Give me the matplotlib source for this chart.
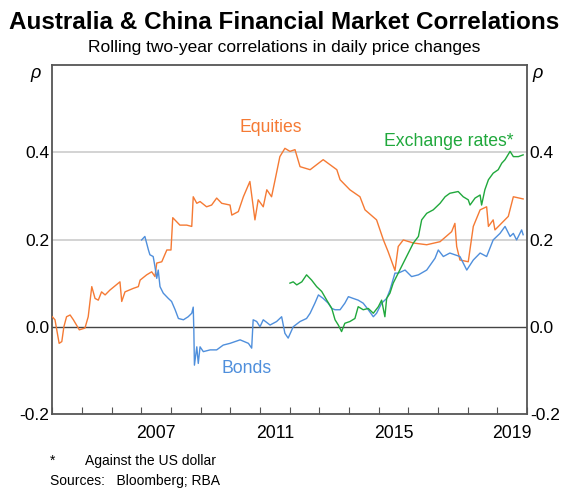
import matplotlib
matplotlib.use("Agg")
import matplotlib.pyplot as plt

plt.rcParams['font.family'] = ['Liberation Sans', 'DejaVu Sans']

# equities: (year, correlation)
eq_year = [2004.0, 2004.09, 2004.23, 2004.32, 2004.39, 2004.48, 2004.6, 2004.71, 2004.91, 2005.1,
           2005.21, 2005.33, 2005.44, 2005.55, 2005.66, 2005.78, 2005.94, 2006.28, 2006.34, 2006.45,
           2006.73, 2006.9, 2006.96, 2007.18, 2007.35, 2007.46, 2007.52, 2007.69, 2007.86, 2008.0,
           2008.06, 2008.3, 2008.53, 2008.7, 2008.75, 2008.87, 2008.98, 2009.2, 2009.37, 2009.54,
           2009.71, 2009.99, 2010.05, 2010.27, 2010.44, 2010.66, 2010.83, 2010.94, 2011.11, 2011.23,
           2011.39, 2011.51, 2011.67, 2011.84, 2012.01, 2012.18, 2012.35, 2012.69, 2013.13, 2013.59,
           2013.7, 2014.03, 2014.37, 2014.54, 2014.93, 2015.16, 2015.32, 2015.55, 2015.66, 2015.83,
           2016.17, 2016.62, 2017.07, 2017.46, 2017.57, 2017.63, 2017.74, 2018.02, 2018.19, 2018.42,
           2018.64, 2018.7, 2018.86, 2018.92, 2019.37, 2019.54, 2019.87]
eq_val = [0.023, 0.016, -0.038, -0.034, 0.0, 0.023, 0.027, 0.016, -0.007, -0.003,
          0.023, 0.092, 0.065, 0.061, 0.08, 0.073, 0.084, 0.103, 0.058, 0.08,
          0.088, 0.092, 0.107, 0.119, 0.126, 0.115, 0.146, 0.149, 0.176, 0.176,
          0.250, 0.233, 0.233, 0.23, 0.298, 0.283, 0.287, 0.275, 0.279, 0.295,
          0.283, 0.279, 0.256, 0.264, 0.298, 0.333, 0.245, 0.291, 0.275, 0.314,
          0.298, 0.337, 0.39, 0.409, 0.402, 0.406, 0.367, 0.36, 0.383, 0.36,
          0.337, 0.314, 0.298, 0.268, 0.245, 0.199, 0.172, 0.129, 0.184, 0.199,
          0.192, 0.188, 0.195, 0.218, 0.237, 0.184, 0.153, 0.149, 0.23, 0.268,
          0.275, 0.23, 0.245, 0.222, 0.253, 0.298, 0.293]

# bonds
bd_year = [2007.01, 2007.12, 2007.24, 2007.29, 2007.4, 2007.46, 2007.52, 2007.57, 2007.63, 2007.74,
           2007.91, 2008.02, 2008.14, 2008.25, 2008.42, 2008.58, 2008.7, 2008.75, 2008.77, 2008.79,
           2008.87, 2008.92, 2008.98, 2009.09, 2009.32, 2009.54, 2009.76, 2009.99, 2010.33, 2010.61,
           2010.72, 2010.77, 2010.89, 2011.0, 2011.11, 2011.34, 2011.56, 2011.73, 2011.84, 2011.95,
           2012.12, 2012.35, 2012.57, 2012.69, 2012.85, 2012.97, 2013.13, 2013.3, 2013.42, 2013.53,
           2013.7, 2013.86, 2013.98, 2014.14, 2014.31, 2014.48, 2014.65, 2014.82, 2014.93, 2015.1,
           2015.27, 2015.38, 2015.55, 2015.66, 2015.89, 2016.11, 2016.34, 2016.62, 2016.9, 2017.01,
           2017.18, 2017.4, 2017.74, 2017.97, 2018.19, 2018.42, 2018.64, 2018.86, 2019.09, 2019.26,
           2019.43, 2019.54, 2019.65, 2019.82, 2019.87]
bd_val = [0.199, 0.207, 0.176, 0.165, 0.161, 0.138, 0.111, 0.13, 0.092, 0.077,
          0.065, 0.058, 0.039, 0.019, 0.016, 0.023, 0.031, 0.045, -0.007, -0.088,
          -0.046, -0.084, -0.046, -0.057, -0.053, -0.053, -0.042, -0.038, -0.03, -0.038,
          -0.049, 0.016, 0.012, 0.0, 0.016, 0.004, 0.012, 0.023, -0.015, -0.026,
          0.0, 0.012, 0.019, 0.031, 0.054, 0.073, 0.065, 0.054, 0.042, 0.039,
          0.039, 0.054, 0.069, 0.065, 0.061, 0.054, 0.039, 0.023, 0.031, 0.054,
          0.065, 0.084, 0.123, 0.123, 0.13, 0.115, 0.119, 0.13, 0.157, 0.176,
          0.161, 0.169, 0.161, 0.13, 0.153, 0.169, 0.161, 0.199, 0.214, 0.23,
          0.207, 0.214, 0.199, 0.222, 0.211]

# exchange rates (against the US dollar)
fx_year = [2012.01, 2012.12, 2012.24, 2012.41, 2012.57, 2012.74, 2012.91, 2013.08, 2013.25, 2013.42,
           2013.53, 2013.64, 2013.75, 2013.86, 2014.03, 2014.2, 2014.31, 2014.48, 2014.65, 2014.82,
           2014.99, 2015.1, 2015.21, 2015.27, 2015.38, 2015.49, 2015.66, 2015.83, 2016.0, 2016.17,
           2016.34, 2016.45, 2016.62, 2016.84, 2017.07, 2017.24, 2017.4, 2017.68, 2017.85, 2018.02,
           2018.08, 2018.25, 2018.42, 2018.47, 2018.58, 2018.7, 2018.86, 2019.03, 2019.15, 2019.26,
           2019.43, 2019.54, 2019.71, 2019.87]
fx_val = [0.1, 0.103, 0.096, 0.103, 0.119, 0.107, 0.092, 0.081, 0.061, 0.042,
          0.016, 0.004, -0.011, 0.008, 0.012, 0.019, 0.046, 0.039, 0.042, 0.031,
          0.046, 0.061, 0.023, 0.065, 0.077, 0.1, 0.123, 0.146, 0.169, 0.192,
          0.207, 0.245, 0.26, 0.268, 0.283, 0.298, 0.306, 0.31, 0.298, 0.291,
          0.279, 0.295, 0.302, 0.279, 0.314, 0.337, 0.352, 0.36, 0.375, 0.383,
          0.402, 0.39, 0.39, 0.394]

year_ticks = list(range(2004, 2021))
year_labels = ['2007', '2011', '2015', '2019']
y_ticks = [-0.2, 0.0, 0.2, 0.4, 0.6]
y_labels = ['-0.2', '0.0', '0.2', '0.4', '']

orange = '#F57A34'
blue = '#4F8FDC'
green = '#20A83C'

fig = plt.figure(figsize=(5.68, 4.88), dpi=100)
ax = fig.add_axes([0.0921, 0.1516, 0.8357, 0.7152])

for yv in [0.2, 0.4]:
    ax.axhline(yv, color='#CCCCCC', lw=1.2, zorder=1)
ax.axhline(0, color='#444444', lw=1.0, zorder=1)

ax.plot(eq_year, eq_val, color=orange, lw=1.0, zorder=3)
ax.plot(bd_year, bd_val, color=blue, lw=1.0, zorder=3)
ax.plot(fx_year, fx_val, color=green, lw=1.0, zorder=4)

ax.set_xlim(2004, 2020)
ax.set_ylim(-0.2, 0.6)

ax.set_xticks(year_ticks)
ax.set_xticklabels([])
ax.set_xticks([int(s) + 0.5 for s in year_labels], minor=True)
ax.set_xticklabels(year_labels, minor=True, fontsize=12.7)
ax.tick_params(axis='x', which='major', direction='in', length=5, color='#555555')
ax.tick_params(axis='x', which='minor', length=0, pad=8)

ax.set_yticks(y_ticks)
ax.set_yticklabels(y_labels, fontsize=12.5)
ax.tick_params(axis='y', length=0, pad=2, labelleft=True, labelright=True)

for s in ax.spines.values():
    s.set_color('#555555')
    s.set_linewidth(1.3)

ax.text(-0.025, 1.0, 'ρ', transform=ax.transAxes, ha='right', va='top', fontsize=13, style='italic')
ax.text(1.012, 1.0, 'ρ', transform=ax.transAxes, ha='left', va='top', fontsize=13, style='italic')

ax.text(2011.35, 0.457, 'Equities', color=orange, fontsize=12.7, ha='center', va='center')
ax.text(2019.55, 0.425, 'Exchange rates*', color=green, fontsize=12.7, ha='right', va='center')
ax.text(2010.55, -0.095, 'Bonds', color=blue, fontsize=12.7, ha='center', va='center')

fig.text(0.5, 0.954, 'Australia & China Financial Market Correlations', ha='center', va='center',
         fontsize=17.5, fontweight='bold')
fig.text(0.5, 0.903, 'Rolling two-year correlations in daily price changes', ha='center', va='center',
         fontsize=12.5)
fig.text(0.088, 0.055, '*', ha='left', va='center', fontsize=10)
fig.text(0.150, 0.055, 'Against the US dollar', ha='left', va='center', fontsize=10)
fig.text(0.088, 0.015, 'Sources:   Bloomberg; RBA', ha='left', va='center', fontsize=10)

fig.savefig('out.png', dpi=100)
